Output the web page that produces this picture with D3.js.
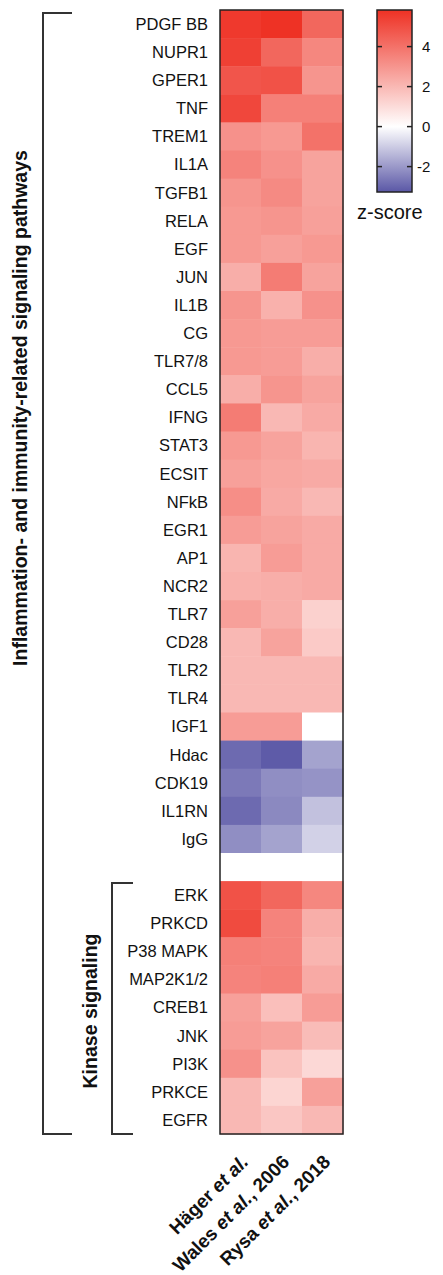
<!DOCTYPE html>
<html>
<head>
<meta charset="utf-8">
<script src="https://cdn.jsdelivr.net/npm/d3@7"></script>
<style>
  body { margin: 0; background: #fff; }
  text { font-family: Arial, "Liberation Sans", sans-serif; fill: #111; }
</style>
</head>
<body>
<div id="heat"></div>
<script>
// row labels (empty string = blank spacer row)
var genes = ["PDGF BB", "NUPR1", "GPER1", "TNF", "TREM1", "IL1A", "TGFB1", "RELA", "EGF", "JUN",
  "IL1B", "CG", "TLR7/8", "CCL5", "IFNG", "STAT3", "ECSIT", "NFkB", "EGR1", "AP1",
  "NCR2", "TLR7", "CD28", "TLR2", "TLR4", "IGF1", "Hdac", "CDK19", "IL1RN", "IgG",
  "",
  "ERK", "PRKCD", "P38 MAPK", "MAP2K1/2", "CREB1", "JNK", "PI3K", "PRKCE", "EGFR"];

var studies = ["Häger", "Wales", "Rysa"];

// z-scores per study
var haeger = [5.6, 5.4, 4.8, 5.2, 3.1, 3.5, 3.0, 2.9, 2.9, 2.3,
  3.0, 2.9, 2.9, 2.3, 3.7, 2.9, 2.7, 3.2, 2.8, 2.1,
  2.2, 2.7, 2.0, 2.0, 2.0, 2.8, -2.9, -2.6, -2.9, -2.2,
  null,
  4.9, 5.1, 3.6, 3.5, 2.7, 2.8, 3.1, 2.0, 2.0];
var wales = [5.8, 4.3, 4.9, 3.6, 2.9, 3.1, 3.3, 3.0, 2.7, 3.7,
  2.2, 2.8, 2.8, 3.0, 2.0, 2.6, 2.5, 2.4, 2.6, 2.8,
  2.3, 2.3, 2.6, 2.0, 2.0, 2.8, -3.2, -2.2, -2.3, -1.8,
  null,
  4.3, 3.5, 3.5, 3.6, 1.8, 2.6, 1.7, 1.2, 1.6];
var rysa = [4.3, 3.4, 3.0, 3.6, 4.0, 2.6, 2.6, 2.7, 2.9, 2.6,
  3.1, 2.8, 2.3, 2.6, 2.4, 2.1, 2.4, 2.0, 2.4, 2.4,
  2.4, 1.3, 1.5, 2.0, 2.0, 0, -1.8, -2.1, -1.2, -0.9,
  null,
  3.4, 2.3, 2.1, 2.4, 2.8, 1.9, 1.1, 2.7, 2.0];

var zTicks = [4, 2, 0, -2];
var zMin = -3.27, zMax = 5.83;

var W = 443, H = 1275;
var svg = d3.select("#heat").append("svg")
  .attr("width", W).attr("height", H);

// heatmap geometry
var x = d3.scaleBand().domain(studies).range([220, 343]);
var y = d3.scaleBand().domain(d3.range(genes.length)).range([10, 1134]);

var color = d3.scaleLinear()
  .domain([zMin, 0, zMax])
  .range(["#5a57a6", "#ffffff", "#ee3124"]);

var cells = [];
[haeger, wales, rysa].forEach(function(s, j) {
  s.forEach(function(v, i) {
    cells.push({row: i, col: studies[j], value: v});
  });
});

svg.append("g").selectAll("rect")
  .data(cells)
  .enter().append("rect")
    .attr("x", function(d) { return x(d.col); })
    .attr("y", function(d) { return y(d.row); })
    .attr("width", x.bandwidth() + 0.5)
    .attr("height", y.bandwidth() + 0.5)
    .attr("fill", function(d) { return d.value === null ? "#fff" : color(d.value); });

svg.append("rect")
  .attr("x", 220).attr("y", 10)
  .attr("width", 123).attr("height", 1124)
  .attr("fill", "none").attr("stroke", "#222").attr("stroke-width", 1.5);

// row labels
svg.append("g").selectAll("text")
  .data(genes)
  .enter().append("text")
    .attr("x", 208)
    .attr("y", function(d, i) { return y(i) + y.bandwidth() / 2; })
    .attr("dy", "0.36em")
    .attr("text-anchor", "end")
    .style("font-size", "16.5px")
    .text(function(d) { return d; });

// column labels, rotated
var colLabels = [
  {col: "Häger", name: "Häger ", tail: ""},
  {col: "Wales", name: "Wales ", tail: ", 2006"},
  {col: "Rysa", name: "Rysa ", tail: ", 2018"}
];
var cl = svg.append("g").selectAll("text")
  .data(colLabels)
  .enter().append("text")
    .attr("transform", function(d) {
      return "translate(" + (x(d.col) + x.bandwidth() / 2 + 9) + ",1163) rotate(-45)";
    })
    .attr("text-anchor", "end")
    .style("font-size", "19px")
    .style("font-weight", "bold");
cl.append("tspan").text(function(d) { return d.name; });
cl.append("tspan").style("font-style", "italic").text("et al.");
cl.append("tspan").text(function(d) { return d.tail; });

// group brackets
var brk = svg.append("g")
  .attr("fill", "none").attr("stroke", "#333").attr("stroke-width", 2);
brk.append("path").attr("d", "M72,13H43V1134H72");
brk.append("path").attr("d", "M133,883H112V1134H133");

svg.append("text")
  .attr("transform", "translate(27,408) rotate(-90)")
  .attr("text-anchor", "middle")
  .style("font-size", "19.5px").style("font-weight", "bold")
  .text("Inflammation- and immunity-related signaling pathways");

svg.append("text")
  .attr("transform", "translate(97,1011) rotate(-90)")
  .attr("text-anchor", "middle")
  .style("font-size", "19.5px").style("font-weight", "bold")
  .text("Kinase signaling");

// colour legend
var zy = d3.scaleLinear().domain([zMin, zMax]).range([192, 10]);
var grad = svg.append("defs").append("linearGradient")
  .attr("id", "zgrad").attr("x1", 0).attr("y1", 1).attr("x2", 0).attr("y2", 0);
grad.selectAll("stop")
  .data(color.domain())
  .enter().append("stop")
    .attr("offset", function(d) { return (d - zMin) / (zMax - zMin); })
    .attr("stop-color", function(d) { return color(d); });

svg.append("rect")
  .attr("x", 377).attr("y", 10).attr("width", 35).attr("height", 182)
  .attr("fill", "url(#zgrad)").attr("stroke", "#222").attr("stroke-width", 1.5);

var tk = svg.append("g").attr("stroke", "#222").attr("stroke-width", 1.5);
zTicks.forEach(function(t) {
  tk.append("line").attr("x1", 377).attr("x2", 382).attr("y1", zy(t)).attr("y2", zy(t));
  tk.append("line").attr("x1", 407).attr("x2", 412).attr("y1", zy(t)).attr("y2", zy(t));
});
svg.append("g").selectAll("text")
  .data(zTicks)
  .enter().append("text")
    .attr("x", function(d) { return d < 0 ? 417 : 422; })
    .attr("y", function(d) { return zy(d); })
    .attr("dy", "0.36em")
    .style("font-size", "15px")
    .text(function(d) { return d; });

svg.append("text")
  .attr("x", 357).attr("y", 219)
  .style("font-size", "20px")
  .text("z-score");
</script>
</body>
</html>
